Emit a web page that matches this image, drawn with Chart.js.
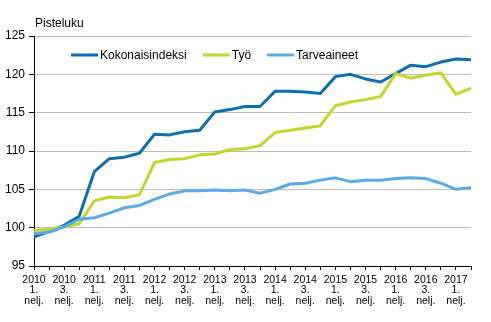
<!DOCTYPE html>
<html>
<head>
<meta charset="utf-8">
<script src="https://cdn.jsdelivr.net/npm/chart.js@4.4.1/dist/chart.umd.min.js"></script>
<style>
  html, body { margin: 0; padding: 0; background: #fff; }
  #wrap { width: 491px; height: 322px; position: relative; }
</style>
</head>
<body>
<div id="wrap"><canvas id="indexChart"></canvas></div>
<script>
/* ─── Data ─── */
const quarters = [
  "2010Q1", "2010Q2", "2010Q3", "2010Q4",
  "2011Q1", "2011Q2", "2011Q3", "2011Q4",
  "2012Q1", "2012Q2", "2012Q3", "2012Q4",
  "2013Q1", "2013Q2", "2013Q3", "2013Q4",
  "2014Q1", "2014Q2", "2014Q3", "2014Q4",
  "2015Q1", "2015Q2", "2015Q3", "2015Q4",
  "2016Q1", "2016Q2", "2016Q3", "2016Q4",
  "2017Q1", "2017Q2",
];
const kokonaisindeksi = [
  98.8, 99.5, 100.3, 101.5, 107.3, 109.0, 109.2, 109.7,
  112.2, 112.1, 112.5, 112.7, 115.1, 115.4, 115.8, 115.8,
  117.8, 117.8, 117.7, 117.5, 119.7, 120.0, 119.4, 119.0,
  120.1, 121.2, 121.0, 121.6, 122.0, 121.9,
];
const tyo = [
  99.6, 99.8, 100.1, 100.5, 103.5, 104.0, 103.9, 104.3,
  108.5, 108.9, 109.0, 109.5, 109.6, 110.2, 110.3, 110.7,
  112.4, 112.7, 113.0, 113.3, 115.9, 116.4, 116.7, 117.1,
  120.1, 119.5, 119.9, 120.2, 117.4, 118.2,
];
const tarveaineet = [
  99.2, 99.4, 100.1, 101.1, 101.3, 101.9, 102.6, 102.9,
  103.7, 104.4, 104.8, 104.8, 104.9, 104.8, 104.9, 104.5,
  105.0, 105.7, 105.8, 106.2, 106.5, 106.0, 106.2, 106.2,
  106.4, 106.5, 106.4, 105.8, 105.0, 105.2,
];
const yTicks = { min: 95, max: 125, step: 5 };

const FONT = "'Liberation Sans', Arial, sans-serif";

/* ─── Legend inside the plot + unit label ─── */
const plotLabels = {
  id: "plotLabels",
  afterDraw(chart) {
    const c = chart.ctx;
    const area = chart.chartArea;
    c.save();
    c.fillStyle = "#000";
    c.font = "12px " + FONT;
    c.textBaseline = "alphabetic";
    c.textAlign = "left";
    c.fillText("Pisteluku", area.left + 1, 27);

    // legend row
    let x = area.left + 37;
    const y = 55;
    chart.data.datasets.forEach((ds) => {
      c.strokeStyle = ds.borderColor;
      c.lineWidth = 3;
      c.beginPath();
      c.moveTo(x, y);
      c.lineTo(x + 27, y);
      c.stroke();
      c.fillStyle = "#000";
      c.textBaseline = "middle";
      c.fillText(ds.label, x + 29, y + 1);
      x += 29 + c.measureText(ds.label).width + 16;
    });
    c.restore();
  },
};

/* ─── Line Chart ─── */
const ctx = document.getElementById("indexChart");

new Chart(ctx, {
  type: "line",
  data: {
    labels: quarters,
    datasets: [
      {
        label: "Kokonaisindeksi",
        data: kokonaisindeksi,
        borderColor: "#0b6fb0",
        order: 2,
      },
      {
        label: "Työ",
        data: tyo,
        borderColor: "#c3d62b",
        order: 1,
      },
      {
        label: "Tarveaineet",
        data: tarveaineet,
        borderColor: "#5aaae3",
        order: 0,
      },
    ],
  },
  options: {
    responsive: true,
    maintainAspectRatio: false,
    animation: false,
    layout: {
      padding: { top: 36, right: 20, left: 0, bottom: 0 },
    },
    elements: {
      line: { borderWidth: 3, tension: 0, borderJoinStyle: "round" },
      point: { radius: 0 },
    },
    plugins: {
      legend: { display: false },
      tooltip: { enabled: false },
    },
    scales: {
      x: {
        offset: false,
        afterFit: (s) => { s.height = 56; },
        border: { color: "#000", width: 1 },
        grid: {
          drawOnChartArea: false,
          drawTicks: true,
          tickLength: 4,
          tickColor: "#000",
        },
        ticks: {
          autoSkip: false,
          maxRotation: 0,
          padding: 5,
          color: "#000",
          font: { family: FONT, size: 10.5, lineHeight: 0.98 },
          callback: (v, i) => {
            if (i % 2) return "";
            const q = quarters[i];
            return [q.slice(0, 4), q.slice(5) + ".", "nelj."];
          },
        },
      },
      y: {
        min: yTicks.min,
        max: yTicks.max,
        afterFit: (s) => { s.width = 34; },
        border: { color: "#000", width: 1 },
        grid: {
          color: "#bdbdbd",
          lineWidth: 1,
          tickLength: 5,
          tickColor: "#000",
        },
        ticks: {
          stepSize: yTicks.step,
          padding: 4,
          color: "#000",
          font: { family: FONT, size: 12 },
        },
      },
    },
  },
  plugins: [plotLabels],
});
</script>
</body>
</html>
